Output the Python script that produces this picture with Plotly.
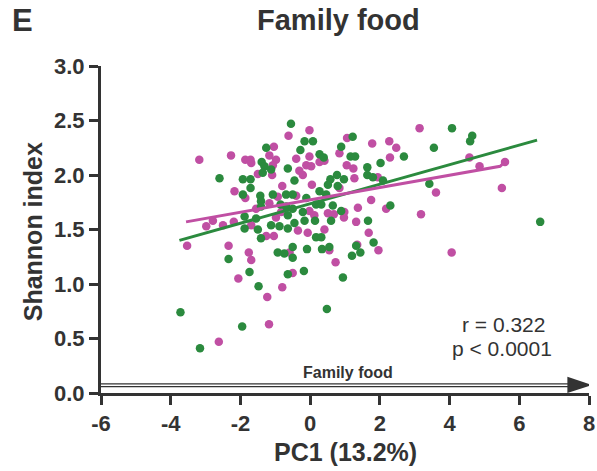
import plotly.graph_objects as go

# ---- data (PC1 score, Shannon index) ----
green_x = [-1.26, -1.39, -1.31, -1.12, -1.36, -0.64, -0.55, -2.60, -1.93, -1.71,
           -1.71, -1.93, -1.43, -1.41, -1.07, -0.69, -1.41, -0.85, -1.88, -1.55,
           -1.88, -1.50, -1.12, -0.88, -0.64, -0.64, -1.41, -0.69, -0.16, 0.08,
           1.22, -0.28, 0.27, 0.39, 0.89, 1.16, 1.29, 2.69, 2.02, 1.64,
           -0.45, 0.77, 0.58, 0.97, 0.51, 0.79, 1.64, 1.80, 2.09, 3.42,
           -0.50, -0.11, 0.27, 0.46, 0.17, 0.32, 0.65, 2.30, -0.50, -0.21,
           0.14, 0.60, 0.89, -0.45, -0.16, 1.66, 0.17, 0.32, -2.34, -1.74,
           -1.48, -3.72, -1.95, -3.16, -0.93, -0.74, -0.64, -0.50, -0.09, 0.34,
           0.55, 1.32, 1.44, 1.20, 1.82, -0.50, -0.18, 0.94, 0.48, 4.07,
           4.65, 4.59, 3.55, 6.60]
green_y = [2.25, 2.12, 2.08, 2.05, 2.02, 2.06, 2.47, 1.97, 1.96, 1.96,
           1.88, 1.82, 1.81, 1.76, 1.82, 1.82, 1.71, 1.73, 1.62, 1.60,
           1.51, 1.50, 1.54, 1.53, 1.63, 1.51, 1.42, 1.71, 2.31, 2.31,
           2.35, 2.23, 2.19, 2.16, 2.26, 2.17, 2.17, 2.17, 2.11, 2.07,
           1.95, 2.00, 1.96, 1.96, 1.91, 1.90, 2.00, 1.98, 1.95, 1.92,
           1.82, 1.79, 1.85, 1.82, 1.73, 1.73, 1.72, 1.72, 1.69, 1.66,
           1.58, 1.58, 1.67, 1.56, 1.58, 1.58, 1.43, 1.43, 1.23, 1.11,
           0.98, 0.74, 0.61, 0.41, 1.29, 1.28, 1.09, 1.34, 1.32, 1.32,
           1.34, 1.35, 1.29, 1.26, 1.38, 1.24, 1.12, 1.06, 0.77, 2.43,
           2.36, 2.31, 2.25, 1.57]

magenta_x = [-3.18, -2.27, -1.86, -1.71, -1.69, -1.04, -1.17, -0.98, -1.07, -1.50,
             -1.09, -0.62, -0.80, -2.17, -1.86, -0.93, -1.17, -1.55, -2.79, -2.98,
             -2.50, -2.19, -1.69, -0.98, -1.26, -1.04, -0.83, -0.02, 3.14, 1.06,
             1.78, 2.27, 2.47, -0.40, -0.02, -0.11, -0.31, -0.21, 0.03, 0.27,
             0.41, 0.84, 1.05, 1.24, 2.29, 1.27, 1.94, 0.05, 0.84, -0.40,
             1.75, 1.37, 2.18, -0.02, 0.12, 0.51, 0.68, 0.98, 0.97, 1.32,
             -0.35, -0.07, 0.41, 1.68, 3.18, -3.53, -2.34, -1.76, -1.69, -2.06,
             -1.23, -0.80, -1.18, -2.62, -0.59, 0.55, 1.35, 1.96, 0.73, -0.50,
             4.57, 4.86, 5.59, 3.61, 5.50, 4.06]
magenta_y = [2.14, 2.18, 2.14, 2.14, 2.11, 2.26, 2.18, 2.14, 2.09, 2.01,
             2.00, 2.36, 1.90, 1.85, 1.79, 1.80, 1.74, 1.69, 1.58, 1.53,
             1.54, 1.57, 1.54, 1.61, 1.44, 1.44, 1.66, 2.41, 2.43, 2.34,
             2.29, 2.31, 2.25, 2.15, 2.17, 2.09, 2.04, 2.00, 2.08, 2.12,
             2.13, 2.20, 2.09, 2.06, 2.16, 1.97, 1.98, 1.91, 1.88, 1.81,
             1.77, 1.70, 1.69, 1.67, 1.63, 1.65, 1.64, 1.66, 1.61, 1.57,
             1.49, 1.47, 1.50, 1.47, 1.64, 1.35, 1.35, 1.29, 1.22, 1.05,
             0.88, 0.97, 0.63, 0.47, 1.29, 1.31, 1.36, 1.31, 1.20, 1.10,
             2.16, 2.08, 2.12, 1.84, 1.88, 1.29]

# regression lines (endpoints)
green_fit_x = [-3.75, 6.51]
green_fit_y = [1.40, 2.32]
magenta_fit_x = [-3.56, 5.45, 5.55]
magenta_fit_y = [1.57, 2.08, 2.11]

x_ticks = [-6, -4, -2, 0, 2, 4, 6, 8]
y_ticks = [0.0, 0.5, 1.0, 1.5, 2.0, 2.5, 3.0]
y_ticklabels = ["0.0", "0.5", "1.0", "1.5", "2.0", "2.5", "3.0"]

GREEN = "#2B8A3E"
MAGENTA = "#C04FA3"
DARK = "#333333"
FONT = "Liberation Sans, Arial, sans-serif"

fig = go.Figure()
fig.add_trace(go.Scatter(x=magenta_x, y=magenta_y, mode="markers",
                         marker=dict(color=MAGENTA, size=8.5, line=dict(width=0)),
                         cliponaxis=False, showlegend=False))
fig.add_trace(go.Scatter(x=green_x, y=green_y, mode="markers",
                         marker=dict(color=GREEN, size=8.5, line=dict(width=0)),
                         cliponaxis=False, showlegend=False))
fig.add_trace(go.Scatter(x=green_fit_x, y=green_fit_y, mode="lines",
                         line=dict(color=GREEN, width=3), showlegend=False))
fig.add_trace(go.Scatter(x=magenta_fit_x, y=magenta_fit_y, mode="lines",
                         line=dict(color=MAGENTA, width=3), showlegend=False))

axis_common = dict(showgrid=False, zeroline=False, showline=True, linecolor=DARK,
                   linewidth=3, ticks="outside", ticklen=9, tickwidth=3,
                   automargin=False,
                   tickcolor=DARK, tickfont=dict(family=FONT, size=22, color=DARK,
                                                 weight="bold"))
fig.update_xaxes(range=[-6, 8], tickvals=x_ticks,
                 ticktext=[str(v) for v in x_ticks], **axis_common)
fig.update_yaxes(range=[0, 3], tickvals=y_ticks, ticktext=y_ticklabels,
                 **axis_common)

# arrow above x axis
fig.add_shape(type="line", xref="x", yref="y", x0=-6, x1=7.45, y0=0.083, y1=0.083,
              line=dict(color=DARK, width=1.2))
fig.add_shape(type="line", xref="x", yref="y", x0=-6, x1=7.45, y0=0.058, y1=0.058,
              line=dict(color=DARK, width=1.2))
fig.add_shape(type="path", xref="x", yref="y",
              path="M 7.38,0.15 L 8.08,0.073 L 7.38,0.0 Z",
              fillcolor=DARK, line=dict(color=DARK, width=0))

ann = []
ann.append(dict(text="Family food", x=1.1, y=0.19, xref="x", yref="y",
                showarrow=False, font=dict(family=FONT, size=16, color=DARK,
                                           weight="bold")))
ann.append(dict(text="r = 0.322", x=5.55, y=0.63, xref="x", yref="y",
                showarrow=False, font=dict(family=FONT, size=21, color=DARK)))
ann.append(dict(text="p < 0.0001", x=5.5, y=0.41, xref="x", yref="y",
                showarrow=False, font=dict(family=FONT, size=21, color=DARK)))
ann.append(dict(text="Family food", x=0.487, y=1.141, xref="paper", yref="paper",
                xanchor="center", yanchor="middle", showarrow=False,
                font=dict(family=FONT, size=29, color=DARK, weight="bold")))
ann.append(dict(text="E", x=-0.16, y=1.138, xref="paper", yref="paper",
                xanchor="center", yanchor="middle", showarrow=False,
                font=dict(family=FONT, size=31, color=DARK, weight="bold")))
ann.append(dict(text="Shannon index", x=-0.139, y=0.492, xref="paper", yref="paper",
                xanchor="center", yanchor="middle", textangle=-90, showarrow=False,
                font=dict(family=FONT, size=25, color=DARK, weight="bold")))
ann.append(dict(text="PC1 (13.2%)", x=0.5, y=-0.18, xref="paper", yref="paper",
                xanchor="center", yanchor="middle", showarrow=False,
                font=dict(family=FONT, size=25, color=DARK, weight="bold")))

fig.update_layout(width=597, height=471, margin=dict(l=101, r=8, t=66, b=78),
                  plot_bgcolor="white", paper_bgcolor="white", annotations=ann)

fig.write_html("out.html")
